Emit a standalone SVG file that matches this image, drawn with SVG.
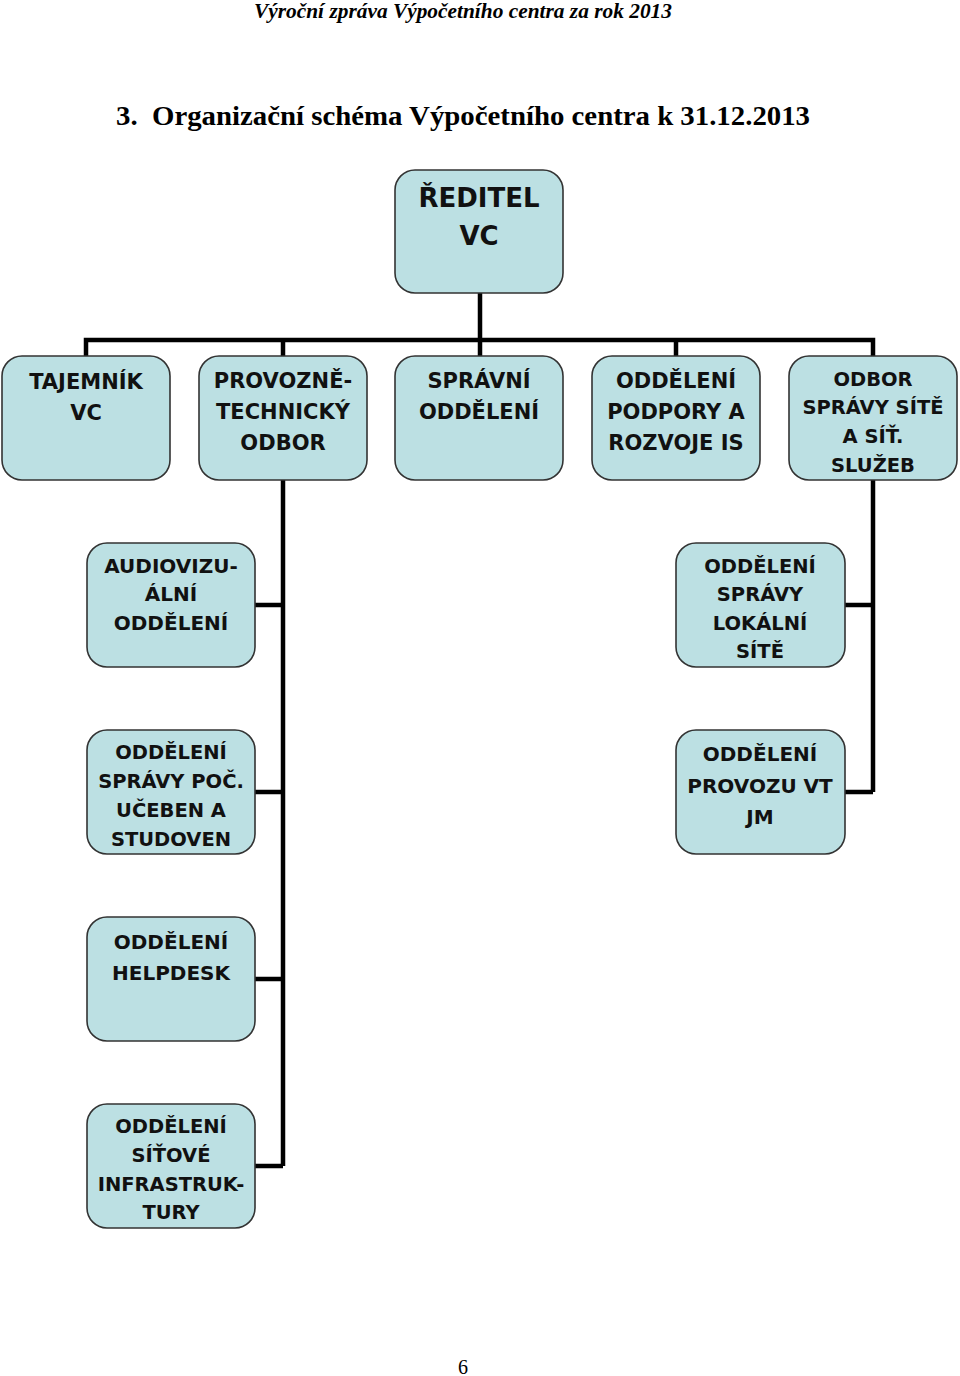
<svg xmlns="http://www.w3.org/2000/svg" width="960" height="1376" viewBox="0 0 960 1376">
<style>
.box{fill:#bce0e3;stroke:#333;stroke-width:1.6}
.lbl{font-family:"DejaVu Sans",sans-serif;font-weight:bold;fill:#111;text-anchor:middle}
.f26{font-size:26px}.f21{font-size:21px}.f20{font-size:20px}.f19{font-size:19.5px}
.con{fill:none;stroke:#000;stroke-width:4.5;stroke-linejoin:miter}
</style>
<rect width="960" height="1376" fill="#fff"/>
<text x="254" y="18" font-family="Liberation Serif, serif" font-weight="bold" font-style="italic" font-size="20" textLength="418" lengthAdjust="spacingAndGlyphs">Výroční zpráva Výpočetního centra za rok 2013</text>
<text x="116" y="125" font-family="Liberation Serif, serif" font-weight="bold" font-size="28" textLength="694" lengthAdjust="spacingAndGlyphs" xml:space="preserve">3.  Organizační schéma Výpočetního centra k 31.12.2013</text>

<g id="connectors" class="con">
<path d="M480 293V340M86 356V340H873V356M283 340V356M480 340V356M676 340V356"/>
<path d="M283 480V1166M255 605H283M255 792H283M255 979H283M255 1166H283"/>
<path d="M873 480V792M845 605H873M845 792H873"/>
</g>

<g id="reditel"><rect class="box" x="395" y="170" width="168" height="123" rx="20"/>
<text class="lbl f26" x="479" y="207">ŘEDITEL</text><text class="lbl f26" x="479" y="245">VC</text></g>

<g id="tajemnik"><rect class="box" x="2" y="356" width="168" height="124" rx="20"/>
<text class="lbl f21" x="86" y="389">TAJEMNÍK</text><text class="lbl f21" x="86" y="420">VC</text></g>

<g id="provozne"><rect class="box" x="199" y="356" width="168" height="124" rx="20"/>
<text class="lbl f21" x="283" y="388">PROVOZNĚ-</text><text class="lbl f21" x="283" y="419">TECHNICKÝ</text><text class="lbl f21" x="283" y="450">ODBOR</text></g>

<g id="spravni"><rect class="box" x="395" y="356" width="168" height="124" rx="20"/>
<text class="lbl f21" x="479" y="388">SPRÁVNÍ</text><text class="lbl f21" x="479" y="419">ODDĚLENÍ</text></g>

<g id="podpory"><rect class="box" x="592" y="356" width="168" height="124" rx="20"/>
<text class="lbl f21" x="676" y="388">ODDĚLENÍ</text><text class="lbl f21" x="676" y="419">PODPORY A</text><text class="lbl f21" x="676" y="450">ROZVOJE IS</text></g>

<g id="site"><rect class="box" x="789" y="356" width="168" height="124" rx="20"/>
<text class="lbl f19" x="873" y="386">ODBOR</text><text class="lbl f19" x="873" y="414">SPRÁVY SÍTĚ</text><text class="lbl f19" x="873" y="443">A SÍŤ.</text><text class="lbl f19" x="873" y="472">SLUŽEB</text></g>

<g id="audio"><rect class="box" x="87" y="543" width="168" height="124" rx="20"/>
<text class="lbl f20" x="171" y="573">AUDIOVIZU-</text><text class="lbl f20" x="171" y="601">ÁLNÍ</text><text class="lbl f20" x="171" y="630">ODDĚLENÍ</text></g>

<g id="ucebny"><rect class="box" x="87" y="730" width="168" height="124" rx="20"/>
<text class="lbl f19" x="171" y="759">ODDĚLENÍ</text><text class="lbl f19" x="171" y="788">SPRÁVY POČ.</text><text class="lbl f19" x="171" y="817">UČEBEN A</text><text class="lbl f19" x="171" y="846">STUDOVEN</text></g>

<g id="helpdesk"><rect class="box" x="87" y="917" width="168" height="124" rx="20"/>
<text class="lbl f20" x="171" y="949">ODDĚLENÍ</text><text class="lbl f20" x="171" y="980">HELPDESK</text></g>

<g id="infra"><rect class="box" x="87" y="1104" width="168" height="124" rx="20"/>
<text class="lbl f19" x="171" y="1133">ODDĚLENÍ</text><text class="lbl f19" x="171" y="1162">SÍŤOVÉ</text><text class="lbl f19" x="171" y="1191">INFRASTRUK-</text><text class="lbl f19" x="171" y="1219">TURY</text></g>

<g id="lokalni"><rect class="box" x="676" y="543" width="169" height="124" rx="20"/>
<text class="lbl f19" x="760" y="573">ODDĚLENÍ</text><text class="lbl f19" x="760" y="601">SPRÁVY</text><text class="lbl f19" x="760" y="630">LOKÁLNÍ</text><text class="lbl f19" x="760" y="658">SÍTĚ</text></g>

<g id="provozu"><rect class="box" x="676" y="730" width="169" height="124" rx="20"/>
<text class="lbl f20" x="760" y="761">ODDĚLENÍ</text><text class="lbl f20" x="760" y="793">PROVOZU VT</text><text class="lbl f20" x="760" y="824">JM</text></g>

<text x="463" y="1374" font-family="Liberation Serif, serif" font-size="20" text-anchor="middle">6</text>
</svg>
